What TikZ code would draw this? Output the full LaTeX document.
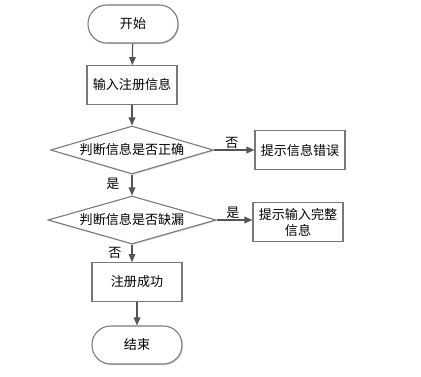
\documentclass[tikz,border=0pt]{standalone}
\usepackage{fontspec}
\setmainfont{Noto Sans CJK SC}
\usetikzlibrary{shapes.geometric, arrows.meta, shadows}
\definecolor{flowgray}{RGB}{85, 85, 85}
\definecolor{edgegray}{RGB}{120, 120, 120}

\begin{document}
\begin{tikzpicture}[
  x=0.75pt, y=-0.75pt,
  font=\fontsize{9.8}{12}\selectfont,
  base/.style={draw=edgegray, line width=0.8pt, fill=white, drop shadow={shadow xshift=0.8pt, shadow yshift=-0.8pt, fill=black!25, opacity=0.6}},
  term/.style={base, rounded corners=14pt, minimum width=67.5pt, minimum height=28.5pt},
  sbox/.style={base, minimum width=67.5pt, minimum height=29pt, align=center, inner sep=1pt},
  dbox/.style={base, diamond, aspect=3.4, inner sep=0pt, minimum width=122pt, minimum height=36pt},
  flow/.style={draw=flowgray, line width=0.9pt, -{Triangle[length=6pt, width=5pt]}},
  lbl/.style={inner sep=1pt}
]
  \useasboundingbox (0,0) rectangle (421,376);

  \node[term] (start) at (133, 24) {开始};
  \node[sbox] (input) at (132, 85) {输入注册信息};
  \node[dbox] (chk1) at (132, 150) {判断信息是否正确};
  \node[sbox] (err) at (300, 150) {提示信息错误};
  \node[dbox, minimum width=126pt] (chk2) at (132, 220) {判断信息是否缺漏};
  \node[sbox] (tip) at (298, 222) {提示输入完整\\信息};
  \node[sbox] (ok) at (137, 282) {注册成功};
  \node[term] (end) at (137, 345) {结束};

  \draw[flow] (start) -- (input);
  \draw[flow] (input) -- (chk1);
  \draw[flow] (chk1) -- (chk2);
  \draw[flow] (chk1) -- (err);
  \draw[flow] (chk2.east) -- (chk2.east -| tip.west);
  \draw[flow] (chk2.south) -- (chk2.south |- ok.north);
  \draw[flow] (ok) -- (end);

  \node[lbl] (yes1) at (113, 184) {是};
  \node[lbl] (no1) at (232, 143) {否};
  \node[lbl] (yes2) at (233, 213) {是};
  \node[lbl] (no2) at (115, 253) {否};
\end{tikzpicture}
\end{document}
